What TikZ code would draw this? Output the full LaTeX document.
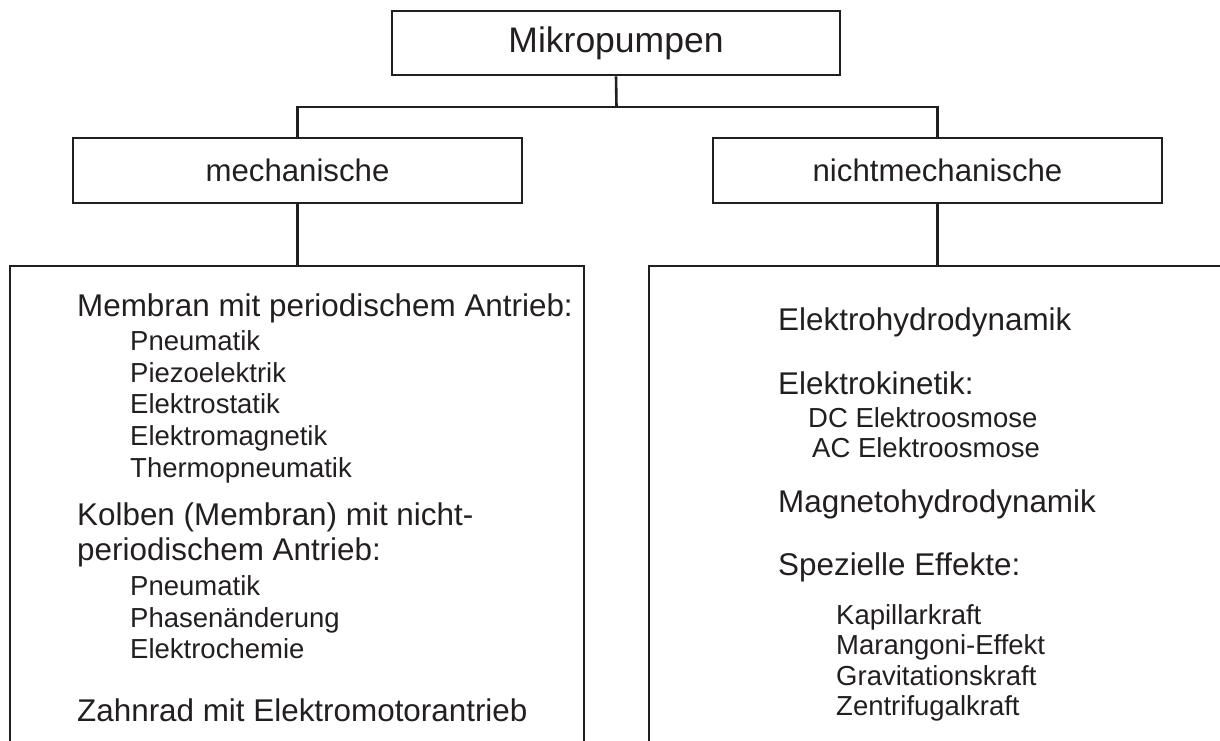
\documentclass[tikz,border=0pt]{standalone}
\usepackage{fontspec}
\setmainfont{Liberation Sans}
\definecolor{ink}{HTML}{231F20}
\begin{document}
\begin{tikzpicture}[x=1pt,y=-1pt,
  boxline/.style={draw=ink,line width=2.6pt},
  headbox/.style={boxline,rectangle,inner sep=0pt,minimum width=448pt,text=ink},
  bigtxt/.style={anchor=base west,inner sep=0pt,text=ink,font=\fontsize{31.4}{37}\selectfont},
  subtxt/.style={anchor=base west,inner sep=0pt,text=ink,font=\fontsize{27.5}{33}\selectfont},
  link/.style={draw=ink,line width=2.6pt}]
\useasboundingbox[fill=white] (0,0) rectangle (1220,740);
% header boxes
\node[headbox,minimum height=64pt,font=\fontsize{35.5}{42}\selectfont] (top) at (616,43) {Mikropumpen};
\node[headbox,minimum width=449pt,minimum height=65pt,font=\fontsize{31.2}{37}\selectfont] (mech) at (297.5,170.5) {mechanische};
\node[headbox,minimum width=449pt,minimum height=65pt,font=\fontsize{31.2}{37}\selectfont] (nmech) at (937.5,170.5) {nichtmechanische};
% big boxes (open below / right, cut by the page)
\node[boxline,rectangle,inner sep=0pt,minimum width=574pt,minimum height=494pt] (lbox) at (297,513) {};
\node[boxline,rectangle,inner sep=0pt,minimum width=590pt,minimum height=494pt] (rbox) at (944,513) {};
% connectors
\coordinate (j) at (616.5,107);
\draw[link] (top.south) -- (j);
\draw[link] (mech.north) -- (mech.north |- j) -- (nmech.north |- j) -- (nmech.north);
\draw[link] (mech.south) -- (mech.south |- lbox.north);
\draw[link] (nmech.south) -- (nmech.south |- rbox.north);
% left contents
\node[bigtxt] (l1) at (77,316) {Membran mit periodischem Antrieb:};
\node[subtxt] (l2) at (130,350) {Pneumatik};
\node[subtxt] (l3) at (130,382) {Piezoelektrik};
\node[subtxt] (l4) at (130,413) {Elektrostatik};
\node[subtxt] (l5) at (130,445) {Elektromagnetik};
\node[subtxt] (l6) at (130,477) {Thermopneumatik};
\node[bigtxt] (l7) at (77,525) {Kolben (Membran) mit nicht-};
\node[bigtxt] (l8) at (77,560) {periodischem Antrieb:};
\node[subtxt] (l9) at (130,595) {Pneumatik};
\node[subtxt] (l10) at (130,627) {Phasenänderung};
\node[subtxt] (l11) at (130,658) {Elektrochemie};
\node[bigtxt] (l12) at (77,721) {Zahnrad mit Elektromotorantrieb};
% right contents
\node[bigtxt] (r1) at (778,330) {Elektrohydrodynamik};
\node[bigtxt] (r2) at (778,394) {Elektrokinetik:};
\node[subtxt] (r3) at (808,427) {DC Elektroosmose};
\node[subtxt] (r4) at (812,457) {AC Elektroosmose};
\node[bigtxt] (r5) at (778,512) {Magnetohydrodynamik};
\node[bigtxt] (r6) at (778,575) {Spezielle Effekte:};
\node[subtxt] (r7) at (836,624) {Kapillarkraft};
\node[subtxt] (r8) at (836,654) {Marangoni-Effekt};
\node[subtxt] (r9) at (836,685) {Gravitationskraft};
\node[subtxt] (r10) at (836,715) {Zentrifugalkraft};
\end{tikzpicture}
\end{document}
